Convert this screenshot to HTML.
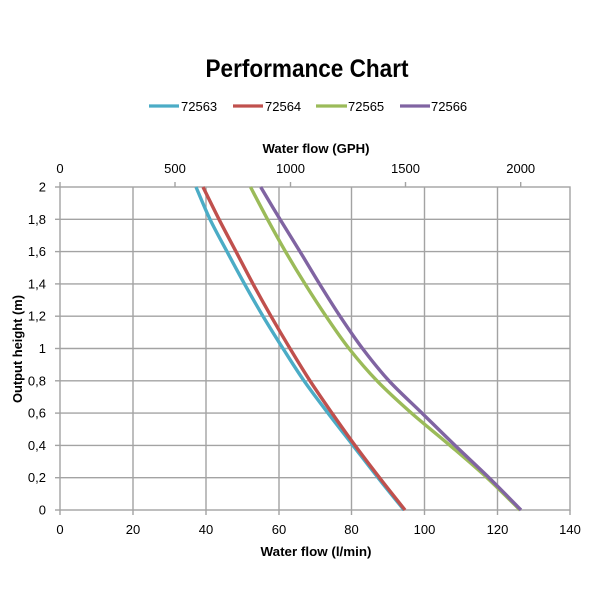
<!DOCTYPE html>
<html>
<head>
<meta charset="utf-8">
<style>
html,body{margin:0;padding:0;background:#fff;}
svg{display:block;}
text{font-family:"Liberation Sans",Arial,sans-serif;fill:#000;}
</style>
</head>
<body>
<svg id="chart" width="600" height="600" viewBox="0 0 600 600" xmlns="http://www.w3.org/2000/svg">
<rect x="0" y="0" width="600" height="600" fill="#fff"/>
<!-- Title -->
<text x="307" y="77" font-size="25" font-weight="bold" text-anchor="middle" textLength="203" lengthAdjust="spacingAndGlyphs">Performance Chart</text>
<!-- Legend -->
<g stroke-width="3.2" stroke-linecap="butt">
<line x1="149" y1="106" x2="179" y2="106" stroke="#4BACC6"/>
<line x1="233" y1="106" x2="263" y2="106" stroke="#C0504D"/>
<line x1="316" y1="106" x2="347" y2="106" stroke="#9BBB59"/>
<line x1="400" y1="106" x2="430" y2="106" stroke="#8064A2"/>
</g>
<g font-size="13">
<text x="181" y="111">72563</text>
<text x="265" y="111">72564</text>
<text x="348" y="111">72565</text>
<text x="431" y="111">72566</text>
</g>
<!-- Top axis title -->
<text x="316" y="153" font-size="13" font-weight="bold" text-anchor="middle" textLength="107" lengthAdjust="spacingAndGlyphs">Water flow (GPH)</text>
<!-- Top axis labels -->
<g font-size="13" text-anchor="middle">
<text x="60" y="173">0</text>
<text x="175" y="173">500</text>
<text x="290.5" y="173">1000</text>
<text x="405.5" y="173">1500</text>
<text x="520.7" y="173">2000</text>
</g>
<!-- Grid -->
<g stroke="#a3a3a3" stroke-width="1.4" fill="none">
<line x1="133" y1="187" x2="133" y2="510"/>
<line x1="206" y1="187" x2="206" y2="510"/>
<line x1="279" y1="187" x2="279" y2="510"/>
<line x1="351.5" y1="187" x2="351.5" y2="510"/>
<line x1="424.5" y1="187" x2="424.5" y2="510"/>
<line x1="497.5" y1="187" x2="497.5" y2="510"/>
<line x1="60" y1="219.3" x2="570" y2="219.3"/>
<line x1="60" y1="251.6" x2="570" y2="251.6"/>
<line x1="60" y1="283.9" x2="570" y2="283.9"/>
<line x1="60" y1="316.2" x2="570" y2="316.2"/>
<line x1="60" y1="348.5" x2="570" y2="348.5"/>
<line x1="60" y1="380.8" x2="570" y2="380.8"/>
<line x1="60" y1="413.1" x2="570" y2="413.1"/>
<line x1="60" y1="445.4" x2="570" y2="445.4"/>
<line x1="60" y1="477.7" x2="570" y2="477.7"/>
<rect x="60" y="187" width="510" height="323"/>
<!-- left ticks -->
<line x1="55" y1="187" x2="60" y2="187"/>
<line x1="55" y1="219.3" x2="60" y2="219.3"/>
<line x1="55" y1="251.6" x2="60" y2="251.6"/>
<line x1="55" y1="283.9" x2="60" y2="283.9"/>
<line x1="55" y1="316.2" x2="60" y2="316.2"/>
<line x1="55" y1="348.5" x2="60" y2="348.5"/>
<line x1="55" y1="380.8" x2="60" y2="380.8"/>
<line x1="55" y1="413.1" x2="60" y2="413.1"/>
<line x1="55" y1="445.4" x2="60" y2="445.4"/>
<line x1="55" y1="477.7" x2="60" y2="477.7"/>
<line x1="55" y1="510" x2="60" y2="510"/>
<!-- bottom ticks -->
<line x1="60" y1="510" x2="60" y2="515"/>
<line x1="133" y1="510" x2="133" y2="515"/>
<line x1="206" y1="510" x2="206" y2="515"/>
<line x1="279" y1="510" x2="279" y2="515"/>
<line x1="351.5" y1="510" x2="351.5" y2="515"/>
<line x1="424.5" y1="510" x2="424.5" y2="515"/>
<line x1="497.5" y1="510" x2="497.5" y2="515"/>
<line x1="570" y1="510" x2="570" y2="515"/>
<!-- top ticks -->
<line x1="60" y1="182" x2="60" y2="187"/>
<line x1="175" y1="182" x2="175" y2="187"/>
<line x1="290.5" y1="182" x2="290.5" y2="187"/>
<line x1="405.5" y1="182" x2="405.5" y2="187"/>
<line x1="520.7" y1="182" x2="520.7" y2="187"/>
</g>
<!-- Y labels -->
<g font-size="13" text-anchor="end">
<text x="46" y="191.5">2</text>
<text x="46" y="223.8">1,8</text>
<text x="46" y="256.1">1,6</text>
<text x="46" y="288.4">1,4</text>
<text x="46" y="320.7">1,2</text>
<text x="46" y="353">1</text>
<text x="46" y="385.3">0,8</text>
<text x="46" y="417.6">0,6</text>
<text x="46" y="449.9">0,4</text>
<text x="46" y="482.2">0,2</text>
<text x="46" y="514.5">0</text>
</g>
<!-- X labels -->
<g font-size="13" text-anchor="middle">
<text x="60" y="534">0</text>
<text x="133" y="534">20</text>
<text x="206" y="534">40</text>
<text x="279" y="534">60</text>
<text x="351.5" y="534">80</text>
<text x="424.5" y="534">100</text>
<text x="497.5" y="534">120</text>
<text x="570" y="534">140</text>
</g>
<text x="316" y="556" font-size="13" font-weight="bold" text-anchor="middle" textLength="111" lengthAdjust="spacingAndGlyphs">Water flow (l/min)</text>
<text transform="translate(22,349) rotate(-90)" font-size="13" font-weight="bold" text-anchor="middle" textLength="108" lengthAdjust="spacingAndGlyphs">Output height (m)</text>
<!-- Series -->
<g id="series" fill="none" stroke-width="3.4" stroke-linejoin="round" stroke-linecap="butt">
<polyline stroke="#4BACC6" points="196,187 210,219.3 227,251.6 244.5,283.9 263,316.2 283,348.5 304,380.8 328,413.1 353,445.4 378,477.7 404,510"/>
<polyline stroke="#C0504D" points="203,187 219,219.3 236,251.6 253,283.9 271,316.2 290,348.5 310,380.8 332,413.1 355,445.4 379.5,477.7 405,510"/>
<polyline stroke="#9BBB59" points="250.5,187 267.5,219.3 285.5,251.6 305,283.9 326,316.2 349,348.5 377,380.8 411.5,413.1 450,445.4 487,477.7 520,510"/>
<polyline stroke="#8064A2" points="260.7,187 280,219.3 300,251.6 319.5,283.9 340,316.2 362.5,348.5 389,380.8 422,413.1 455,445.4 489,477.7 521,510"/>
</g>
</svg>
<script>
(function(){
  var ns="http://www.w3.org/2000/svg";
  var g=document.getElementById("series");
  var pls=Array.prototype.slice.call(g.getElementsByTagName("polyline"));
  pls.forEach(function(pl){
    var pts=pl.getAttribute("points").trim().split(/\s+/).map(function(s){var a=s.split(",");return [parseFloat(a[0]),parseFloat(a[1])];});
    var d="M"+pts[0][0]+","+pts[0][1];
    for(var i=0;i<pts.length-1;i++){
      var p0=pts[i>0?i-1:0],p1=pts[i],p2=pts[i+1],p3=pts[i+2<pts.length?i+2:pts.length-1];
      var c1x=p1[0]+(p2[0]-p0[0])/6,c1y=p1[1]+(p2[1]-p0[1])/6;
      var c2x=p2[0]-(p3[0]-p1[0])/6,c2y=p2[1]-(p3[1]-p1[1])/6;
      d+=" C"+c1x.toFixed(2)+","+c1y.toFixed(2)+" "+c2x.toFixed(2)+","+c2y.toFixed(2)+" "+p2[0]+","+p2[1];
    }
    var p=document.createElementNS(ns,"path");
    p.setAttribute("d",d);
    p.setAttribute("stroke",pl.getAttribute("stroke"));
    g.insertBefore(p,pl);
    g.removeChild(pl);
  });
})();
</script>
</body>
</html>
